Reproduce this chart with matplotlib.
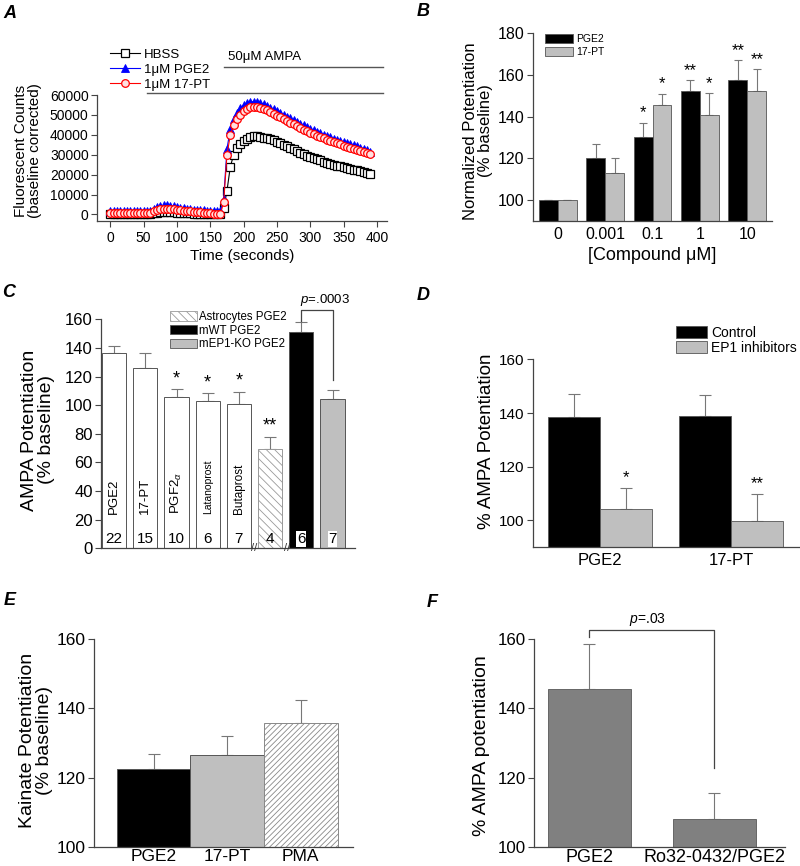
import numpy as np
import matplotlib
matplotlib.use("Agg")
import matplotlib.pyplot as plt
from matplotlib.patches import Patch

plt.rcParams['font.family'] = ['Liberation Sans', 'DejaVu Sans']
plt.rcParams['mathtext.fontset'] = 'custom'
plt.rcParams['mathtext.it'] = 'Liberation Sans:italic'
plt.rcParams['mathtext.rm'] = 'Liberation Sans'
plt.rcParams['hatch.linewidth'] = 0.6
plt.rcParams['axes.linewidth'] = 0.9

# ---------------- data ----------------
# A: calcium traces, one sample every 5 s
time_s = np.arange(0, 391, 5)
hbss = ([0] * 12 +
        [200, 600, 900, 1100, 1200, 1200, 1100, 1000, 900, 800, 700, 600, 500, 400, 300, 300, 200, 200, 100, 100, 0, 200] +
        [3000, 12000, 24000, 30000, 33500, 35500, 37000, 38000, 38900, 39300, 39200, 39000, 38600, 38200, 37700,
         37200, 36600, 35900, 35100, 34300, 33500, 32700, 31900, 31100, 30300, 29600, 28900, 28300, 27700, 27100,
         26500, 26000, 25500, 25000, 24500, 24100, 23700, 23300, 22900, 22500, 22100, 21700, 21300, 20900, 20500])
pge2_trace = ([1500] * 12 +
              [1800, 2700, 3500, 4100, 4500, 4500, 4300, 4000, 3700, 3400, 3100, 2800, 2600, 2400, 2200, 2100, 2000, 1900, 1800, 1700, 1600, 1500] +
              [8000, 33000, 43000, 48000, 51000, 53500, 55000, 56000, 56500, 56700, 56400, 55900, 55300, 54500, 53700,
               52800, 51900, 51000, 50000, 49100, 48200, 47300, 46400, 45500, 44700, 43900, 43100, 42300, 41500, 40800,
               40100, 39400, 38700, 38100, 37500, 36900, 36300, 35700, 35200, 34700, 34200, 33600, 33000, 32300, 31600])
pt17_trace = ([500] * 12 +
              [800, 1600, 2300, 2700, 2900, 2900, 2800, 2600, 2400, 2100, 1900, 1700, 1500, 1300, 1100, 1000, 800, 700, 500, 400, 300, 200] +
              [6000, 30000, 40000, 45000, 48000, 50000, 51800, 53000, 53800, 54200, 54000, 53600, 53000, 52300, 51500,
               50600, 49700, 48800, 47900, 47000, 46100, 45200, 44300, 43400, 42600, 41800, 41000, 40300, 39600, 38900,
               38200, 37600, 37000, 36400, 35800, 35200, 34600, 34100, 33600, 33100, 32600, 32100, 31600, 31100, 30500])
drug_on, ampa_on, rec_end = 55, 171, 409

# B: dose response
doses = ['0', '0.001', '0.1', '1', '10']
b_pge2 = [100, 120.3, 130.4, 152, 157.4]
b_pge2_err = [0, 6.4, 6.7, 5.4, 9.6]
b_17pt = [100, 112.8, 145.4, 140.8, 152.3]
b_17pt_err = [0, 7.2, 5.6, 10.4, 10.4]
b_pge2_sig = ['', '', '*', '**', '**']
b_17pt_sig = ['', '', '*', '*', '**']

# C: agonists
c_names = ['PGE2', '17-PT', 'PGF2$_{\\alpha}$', 'Latanoprost', 'Butaprost', '', '', '']
c_name_size = [9.5, 9.5, 9.5, 7.5, 8.5, 8, 8, 8]
c_vals = [136.2, 125.8, 106, 103, 100.6, 69.2, 151, 104.3]
c_err = [5.4, 10.4, 5, 5.3, 8.9, 8.8, 7, 6.1]
c_n = [22, 15, 10, 6, 7, 4, 6, 7]
c_sig = ['', '', '*', '*', '*', '**', '', '']

# D: EP1 inhibitors
d_groups = ['PGE2', '17-PT']
d_ctrl = [138.4, 139]
d_ctrl_err = [8.6, 7.8]
d_inh = [104.2, 99.9]
d_inh_err = [7.8, 10]
d_sig = ['*', '**']

# E: kainate
e_names = ['PGE2', '17-PT', 'PMA']
e_vals = [122.4, 126.4, 135.9]
e_err = [4.3, 5.6, 6.5]

# F: PKC inhibitor
f_names = ['PGE2', 'Ro32-0432/PGE2']
f_vals = [145.6, 108]
f_err = [13, 7.6]

BLACK = '#000000'
LGRAY = '#bfbfbf'
DGRAY = '#808080'
EDGE = '#555555'
ERRC = '#777777'

fig = plt.figure(figsize=(8, 8.66), dpi=100)


def style(ax, size):
    for s in ['top', 'right']:
        ax.spines[s].set_visible(False)
    for s in ['left', 'bottom']:
        ax.spines[s].set_color('#444444')
    ax.tick_params(axis='y', direction='out', length=4, width=0.8, color='#444444', labelsize=size, pad=2)
    ax.tick_params(axis='x', length=0, labelsize=size, pad=4)


def up_err(ax, x, y, e, cap=3.5):
    ax.errorbar(x, y, yerr=[np.zeros(len(e)), e], fmt='none', ecolor=ERRC,
                elinewidth=0.8, capsize=cap, capthick=0.8, zorder=1)


# ---------------- A ----------------
axA = fig.add_axes([0.12125, 0.7448, 0.3625, 0.1455])
style(axA, 10)
axA.tick_params(axis='x', direction='out', length=4, width=0.8, color='#444444', pad=3)
lA1, = axA.plot(time_s, hbss, '-s', color='black', mfc='white', mec='black', ms=5.5, mew=0.9, lw=0.8, label='HBSS')
lA2, = axA.plot(time_s, pge2_trace, '-^', color='blue', mfc='blue', mec='blue', ms=6, mew=0.6, lw=0.8, label='1μM PGE2')
lA3, = axA.plot(time_s, pt17_trace, '-o', color='red', mfc='#ffe0e0', mec='red', ms=5.5, mew=0.9, lw=0.8, label='1μM 17-PT')
axA.set_xlim(-20, 415)
axA.set_ylim(-3300, 60000)
axA.set_xticks(range(0, 401, 50))
axA.set_yticks(range(0, 60001, 10000))
axA.set_xlabel('Time (seconds)', fontsize=11, labelpad=3)
axA.set_ylabel('Fluorescent Counts\n(baseline corrected)', fontsize=11, linespacing=1.0)
axA.yaxis.set_label_coords(-0.19, 0.56)
axA.plot([ampa_on, rec_end], [74000, 74000], color='#555555', lw=1, clip_on=False)
axA.plot([drug_on, rec_end], [61000, 61000], color='#555555', lw=1, clip_on=False)
axA.text(ampa_on + 6, 79200, '50μM AMPA', fontsize=9.5, va='center', ha='left')
axA.legend(handles=[lA1, lA2, lA3], loc='upper left', bbox_to_anchor=(0.137, 0.944),
           bbox_transform=fig.transFigure, frameon=False, fontsize=9.5, handlelength=2.3,
           handletextpad=0.3, labelspacing=0.22, borderpad=0, borderaxespad=0)

# ---------------- B ----------------
axB = fig.add_axes([0.66625, 0.7448, 0.29875, 0.2171])
style(axB, 11.5)
xb = np.arange(len(doses))
w = 0.4
axB.bar(xb - w / 2, b_pge2, w, color=BLACK, edgecolor=EDGE, lw=0.6, zorder=2, label='PGE2')
axB.bar(xb + w / 2, b_17pt, w, color=LGRAY, edgecolor=EDGE, lw=0.6, zorder=2, label='17-PT')
up_err(axB, xb - w / 2, b_pge2, b_pge2_err, cap=3)
up_err(axB, xb + w / 2, b_17pt, b_17pt_err, cap=3)
for i in range(len(doses)):
    axB.text(xb[i] - w / 2, b_pge2[i] + b_pge2_err[i] + 1, b_pge2_sig[i], ha='center', va='bottom', fontsize=12)
    axB.text(xb[i] + w / 2, b_17pt[i] + b_17pt_err[i] + 1, b_17pt_sig[i], ha='center', va='bottom', fontsize=12)
axB.set_xlim(-0.52, 4.52)
axB.set_ylim(90, 180)
axB.set_yticks(range(100, 181, 20))
axB.set_xticks(xb)
axB.set_xticklabels(doses)
axB.set_xlabel('[Compound μM]', fontsize=13, labelpad=4)
axB.set_ylabel('Normalized Potentiation\n(% baseline)', fontsize=12, linespacing=1.0)
axB.yaxis.set_label_coords(-0.167, 0.48)
axB.legend(loc='upper left', bbox_to_anchor=(0.681, 0.961), bbox_transform=fig.transFigure,
           frameon=False, fontsize=7.5, handlelength=2.7, handleheight=1.0, handletextpad=0.3,
           labelspacing=0.3, borderpad=0, borderaxespad=0)

# ---------------- C ----------------
axC = fig.add_axes([0.12625, 0.3669, 0.3175, 0.2644])
style(axC, 12)
xc = np.arange(len(c_vals))
c_face = ['white'] * 6 + [BLACK, LGRAY]
c_hatch = [None] * 5 + ['\\\\\\\\', None, None]
c_edge = [EDGE] * 5 + ['#999999', EDGE, EDGE]
for i in range(len(c_vals)):
    axC.bar(xc[i], c_vals[i], 0.78, color=c_face[i], edgecolor=c_edge[i], hatch=c_hatch[i], lw=0.7, zorder=2)
up_err(axC, xc, c_vals, c_err, cap=4)
for i in range(len(c_vals)):
    axC.text(xc[i], c_vals[i] + c_err[i] + 1.5, c_sig[i], ha='center', va='bottom', fontsize=13)
    if c_names[i]:
        axC.text(xc[i], 24, c_names[i], rotation=90, ha='center', va='bottom', fontsize=c_name_size[i], zorder=3)
    box = dict(facecolor='white', edgecolor='none', pad=0.5) if i >= 6 else None
    axC.text(xc[i], 6.5, str(c_n[i]), ha='center', va='center', fontsize=11, bbox=box, zorder=3)
axC.set_xlim(-0.42, 7.72)
axC.set_ylim(0, 160)
axC.set_yticks(range(0, 161, 20))
axC.set_xticks([])
axC.set_ylabel('AMPA Potentiation\n(% baseline)', fontsize=14, linespacing=1.0)
axC.yaxis.set_label_coords(-0.181, 0.517)
for xbrk in [4.48, 5.54]:
    axC.text(xbrk, 0, '//', ha='center', va='center', fontsize=8, color='#333333', clip_on=False)
# significance bracket between mWT and mEP1-KO
axC.plot([6, 6, 7, 7], [159, 166.5, 166.5, 117.6], color='#444444', lw=0.9, clip_on=False)
axC.text(6.77, 173.5, '$p$=.0003', ha='center', va='center', fontsize=9.5)
axC.legend(handles=[Patch(facecolor='white', edgecolor='#999999', hatch='\\\\\\\\', lw=0.6, label='Astrocytes PGE2'),
                    Patch(facecolor=BLACK, edgecolor=EDGE, lw=0.6, label='mWT PGE2'),
                    Patch(facecolor=LGRAY, edgecolor=EDGE, lw=0.6, label='mEP1-KO PGE2')],
           loc='upper left', bbox_to_anchor=(0.2125, 0.641), bbox_transform=fig.transFigure,
           frameon=False, fontsize=8.3, handlelength=2.3, handleheight=0.9, handletextpad=0.2,
           labelspacing=0.15, borderpad=0, borderaxespad=0)

# ---------------- D ----------------
axD = fig.add_axes([0.66625, 0.368, 0.33375, 0.2171])
style(axD, 11)
xd = np.arange(len(d_groups))
axD.bar(xd - 0.2, d_ctrl, 0.4, color=BLACK, edgecolor=EDGE, lw=0.6, zorder=2, label='Control')
axD.bar(xd + 0.2, d_inh, 0.4, color=LGRAY, edgecolor=EDGE, lw=0.6, zorder=2, label='EP1 inhibitors')
up_err(axD, xd - 0.2, d_ctrl, d_ctrl_err, cap=4)
up_err(axD, xd + 0.2, d_inh, d_inh_err, cap=4)
for i in range(len(d_groups)):
    axD.text(xd[i] + 0.2, d_inh[i] + d_inh_err[i] + 1, d_sig[i], ha='center', va='bottom', fontsize=12)
axD.set_xlim(-0.511, 1.527)
axD.set_ylim(90, 160)
axD.set_yticks([100, 120, 140, 160])
axD.set_xticks(xd)
axD.set_xticklabels(d_groups, fontsize=12)
axD.set_ylabel('% AMPA Potentiation', fontsize=13.5)
axD.yaxis.set_label_coords(-0.142, 0.563)
axD.legend(loc='upper left', bbox_to_anchor=(0.845, 0.624), bbox_transform=fig.transFigure,
           frameon=False, fontsize=10, handlelength=2.25, handleheight=0.9, handletextpad=0.3,
           labelspacing=0.1, borderpad=0, borderaxespad=0)

# ---------------- E ----------------
axE = fig.add_axes([0.1179, 0.0223, 0.3234, 0.2395])
style(axE, 12.5)
xe = np.arange(len(e_names))
axE.bar(xe, e_vals, 1.0, color=[BLACK, LGRAY, 'white'], edgecolor=[EDGE, EDGE, '#888888'],
        hatch=[None, None, '//////'], lw=0.7, zorder=2)
up_err(axE, xe, e_vals, e_err, cap=4)
axE.set_xlim(-0.807, 2.71)
axE.set_ylim(100, 160)
axE.set_yticks(range(100, 161, 20))
axE.set_xticks(xe)
axE.set_xticklabels(e_names, fontsize=12.5)
axE.tick_params(axis='x', pad=2)
axE.set_ylabel('Kainate Potentiation\n(% baseline)', fontsize=14, linespacing=1.0)
axE.yaxis.set_label_coords(-0.16, 0.512)

# ---------------- F ----------------
axF = fig.add_axes([0.6675, 0.0223, 0.31375, 0.2395])
style(axF, 12.2)
xf = np.arange(len(f_names))
axF.bar(xf, f_vals, 0.664, color=DGRAY, edgecolor='#666666', lw=0.7, zorder=2)
up_err(axF, xf, f_vals, f_err, cap=4)
axF.set_xlim(-0.44, 1.566)
axF.set_ylim(100, 160)
axF.set_yticks(range(100, 161, 20))
axF.set_xticks(xf)
axF.set_xticklabels(f_names, fontsize=13)
axF.tick_params(axis='x', pad=2)
axF.set_ylabel('% AMPA potentiation', fontsize=14)
axF.yaxis.set_label_coords(-0.175, 0.488)
axF.plot([0, 0, 1, 1], [160.7, 162.7, 162.7, 122.7], color='#444444', lw=0.9, clip_on=False)
axF.text(0.47, 165.6, '$p$=.03', ha='center', va='center', fontsize=10)

# panel letters
for lab, x, y in [('A', 0.004, 0.994), ('B', 0.521, 0.996), ('C', 0.003, 0.672),
                  ('D', 0.521, 0.669), ('E', 0.004, 0.316), ('F', 0.533, 0.314)]:
    fig.text(x, y, lab, fontsize=13, fontweight='bold', fontstyle='italic', ha='left', va='top')

fig.savefig('out.png', dpi=100)
